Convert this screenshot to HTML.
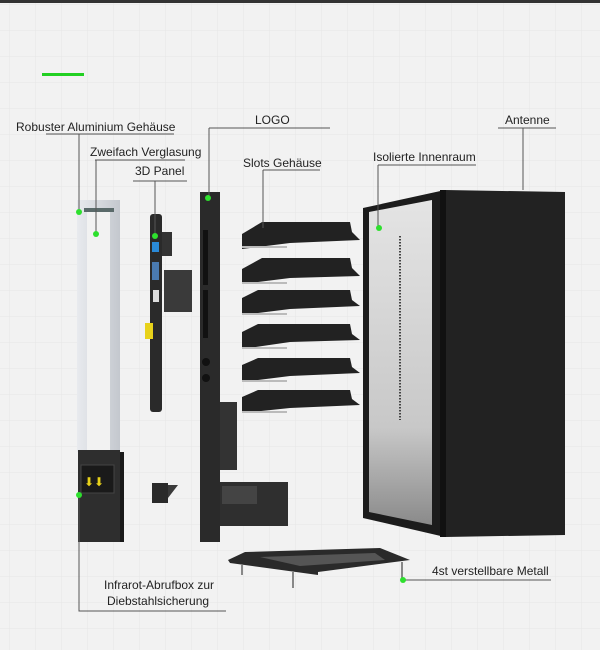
<!DOCTYPE html>
<html><head><meta charset="utf-8"><style>
html,body{margin:0;padding:0;}
body{width:600px;height:650px;overflow:hidden;background:#f2f2f2;}
svg{display:block}
text{font-family:"Liberation Sans",sans-serif;font-size:12px;fill:#222;}
</style></head><body>
<svg width="600" height="650" viewBox="0 0 600 650" xmlns="http://www.w3.org/2000/svg">
<defs>
<pattern id="g" width="26" height="26" patternUnits="userSpaceOnUse" x="10" y="5">
<path d="M26 0V26M0 26H26" stroke="#e6e6e6" stroke-width="1" fill="none"/>
</pattern>
<linearGradient id="inner" x1="0" y1="0" x2="0" y2="1">
<stop offset="0" stop-color="#e4e4e4"/><stop offset="0.7" stop-color="#c8c8c8"/><stop offset="1" stop-color="#8a8a8a"/>
</linearGradient>
<linearGradient id="alu" x1="0" y1="0" x2="1" y2="0">
<stop offset="0" stop-color="#e8eaee"/><stop offset="1" stop-color="#c4c8ce"/>
</linearGradient>
</defs>
<rect width="600" height="650" fill="#f2f2f2"/>
<rect width="600" height="650" fill="url(#g)"/>
<rect width="600" height="3" fill="#333"/>
<rect x="42" y="73" width="42" height="3" fill="#22d022"/>

<!-- aluminium frame -->
<rect x="77" y="200" width="43" height="252" fill="url(#alu)"/>
<rect x="87" y="212" width="23" height="240" fill="#f2f2f2"/>
<rect x="84" y="208" width="30" height="4" fill="#5a6a6a"/>
<!-- IR box -->
<rect x="78" y="450" width="42" height="92" fill="#2e2e2e"/>
<rect x="120" y="452" width="4" height="90" fill="#1a1a1a"/>
<rect x="81" y="465" width="33" height="28" fill="#1a1a1a" stroke="#444"/>
<text x="84" y="486" style="fill:#e8d21a;font-size:12px">⬇⬇</text>

<!-- 3D panel -->
<rect x="150" y="214" width="12" height="198" rx="3" fill="#2a2a2a"/>
<rect x="162" y="232" width="10" height="24" fill="#333"/>
<rect x="152" y="242" width="7" height="10" fill="#2a8ad8"/>
<rect x="152" y="262" width="7" height="18" fill="#4a7ab0"/>
<rect x="164" y="270" width="28" height="42" fill="#3a3a3a"/>
<rect x="153" y="290" width="6" height="12" fill="#ddd"/>
<rect x="145" y="323" width="8" height="16" fill="#e8d21a"/>
<!-- small bracket -->
<rect x="152" y="483" width="16" height="20" fill="#2a2a2a"/>
<polygon points="168,485 178,485 168,498" fill="#3a3a3a"/>

<!-- LOGO column -->
<rect x="200" y="192" width="20" height="350" fill="#2a2a2a"/>
<rect x="203" y="230" width="5" height="55" fill="#111"/>
<rect x="203" y="290" width="5" height="48" fill="#111"/>
<circle cx="206" cy="362" r="4" fill="#111"/><circle cx="206" cy="378" r="4" fill="#111"/>
<rect x="220" y="402" width="17" height="68" fill="#333"/>
<rect x="220" y="482" width="68" height="44" fill="#2f2f2f"/>
<rect x="222" y="486" width="35" height="18" fill="#444"/>

<!-- slot trays -->
<g fill="#222">
<polygon points="242,234 262,222 350,222 352,232 360,240 290,243 242,249"/>
<polygon points="242,269 262,258 350,258 352,268 360,276 290,278 242,284"/>
<polygon points="242,298 258,290 350,290 352,300 360,306 290,309 242,315"/>
<polygon points="242,332 258,324 350,324 352,334 360,340 290,342 242,349"/>
<polygon points="242,365 258,358 350,358 352,367 360,373 290,376 242,382"/>
<polygon points="242,397 258,390 350,390 352,399 360,405 290,408 242,413"/>
</g>
<g fill="#bbb">
<rect x="242" y="246" width="45" height="2"/><rect x="242" y="282" width="45" height="2"/>
<rect x="242" y="313" width="45" height="2"/><rect x="242" y="347" width="45" height="2"/>
<rect x="242" y="380" width="45" height="2"/><rect x="242" y="411" width="45" height="2"/>
</g>

<!-- cabinet -->
<polygon points="363,208 445,190 445,537 363,518" fill="#1c1c1c"/>
<polygon points="369,212 432,200 432,525 369,512" fill="url(#inner)"/>
<line x1="400" y1="236" x2="400" y2="420" stroke="#444" stroke-width="2" stroke-dasharray="1.5 1.5"/>
<polygon points="445,190 565,192 565,535 445,537" fill="#222"/>
<rect x="440" y="190" width="6" height="347" fill="#111"/>

<!-- base -->
<polygon points="228,560 245,552 380,548 410,560 318,572 318,575 230,563" fill="#2a2a2a"/>
<polygon points="260,557 375,553 385,560 300,566" fill="#555"/>
<line x1="242" y1="565" x2="242" y2="575" stroke="#888" stroke-width="2"/>
<line x1="293" y1="572" x2="293" y2="588" stroke="#888" stroke-width="2"/>
<line x1="402" y1="562" x2="402" y2="578" stroke="#888" stroke-width="2"/>

<!-- leader lines -->
<g stroke="#555" stroke-width="1" fill="none">
<path d="M46 134H174M79 134V212"/>
<path d="M95 160H185M96 160V234"/>
<path d="M133 181H187M155 181V235"/>
<path d="M209 128H330M209 128V198"/>
<path d="M263 170H320M263 170V228"/>
<path d="M378 165H476M378 165V228"/>
<path d="M498 128H556M523 128V190"/>
<path d="M404 580H551"/>
<path d="M79 495V611H226"/>
</g>
<g fill="#2ee02e">
<circle cx="79" cy="212" r="3"/><circle cx="96" cy="234" r="3"/><circle cx="155" cy="236" r="3"/>
<circle cx="208" cy="198" r="3"/><circle cx="379" cy="228" r="3"/><circle cx="403" cy="580" r="3"/>
<circle cx="79" cy="495" r="3"/>
</g>

<text x="16" y="131">Robuster Aluminium Gehäuse</text>
<text x="90" y="156">Zweifach Verglasung</text>
<text x="135" y="175">3D Panel</text>
<text x="255" y="124">LOGO</text>
<text x="243" y="167">Slots Gehäuse</text>
<text x="373" y="161">Isolierte Innenraum</text>
<text x="505" y="124">Antenne</text>
<text x="432" y="575">4st verstellbare Metall</text>
<text x="104" y="589">Infrarot-Abrufbox zur</text>
<text x="107" y="605">Diebstahlsicherung</text>
</svg>
</body></html>
